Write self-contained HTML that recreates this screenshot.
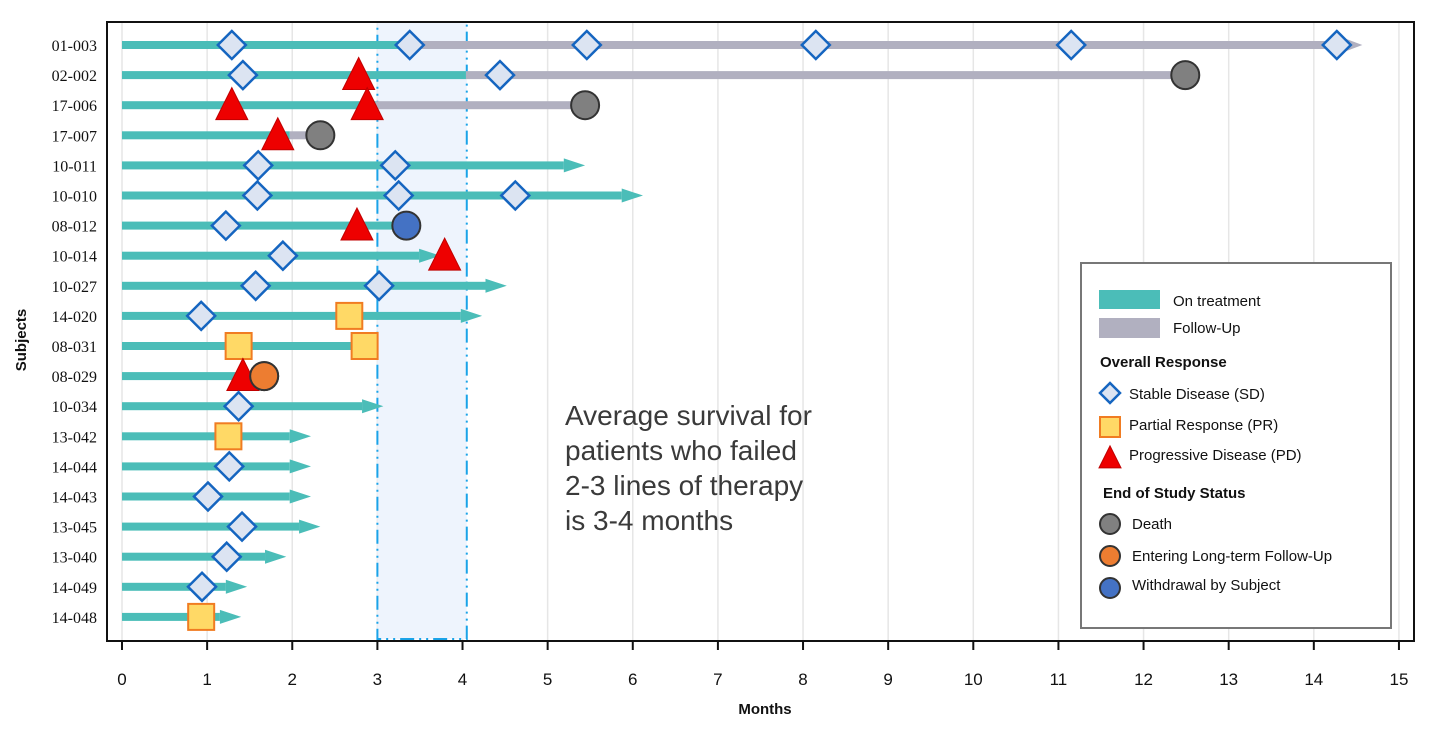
<!DOCTYPE html>
<html><head><meta charset="utf-8"><style>
body{margin:0;background:#fff;width:1456px;height:730px;overflow:hidden}
svg text{font-family:"Liberation Sans",Arial,sans-serif}
svg text.serif{font-family:"Liberation Serif","Times New Roman",serif}
</style></head><body>
<svg id="chart" width="1456" height="730" xmlns="http://www.w3.org/2000/svg"></svg>
<script>
const subjects=["01-003","02-002","17-006","17-007","10-011","10-010","08-012","10-014","10-027","14-020","08-031","08-029","10-034","13-042","14-044","14-043","13-045","13-040","14-049","14-048"];
const treatEnd=[3.38,4.04,2.98,1.97,5.44,6.12,3.34,3.74,4.52,4.23,2.91,1.56,3.07,2.22,2.22,2.22,2.33,1.93,1.47,1.40];
const followEnd=[14.57,12.49,5.44,2.33,null,null,null,null,null,null,null,null,null,null,null,null,null,null,null,null];
const ongoing=[1,0,0,0,1,1,0,1,1,1,0,0,1,1,1,1,1,1,1,1];
const endStatus=[null,"death","death","death",null,null,"withdrawal",null,null,null,null,"ltfu",null,null,null,null,null,null,null,null];
const endTime=[null,12.49,5.44,2.33,null,null,3.34,null,null,null,null,1.67,null,null,null,null,null,null,null,null];
const sdTimes=[[1.29,3.38,5.46,8.15,11.15,14.27],[1.42,4.44],[],[],[1.6,3.21],[1.59,3.25,4.62],[1.22],[1.89],[1.57,3.02],[0.93],[],[],[1.37],[],[1.26],[1.01],[1.41],[1.23],[0.94],[]];
const prTimes=[[],[],[],[],[],[],[],[],[],[2.67],[1.37,2.85],[],[],[1.25],[],[],[],[],[],[0.93]];
const pdTimes=[[],[2.78],[1.29,2.88],[1.83],[],[],[2.76],[3.79],[],[],[],[1.42],[],[],[],[],[],[],[],[]];
const xTicks=[0,1,2,3,4,5,6,7,8,9,10,11,12,13,14,15];
const bandStart=3.0, bandEnd=4.05;

const NS="http://www.w3.org/2000/svg";
const svg=document.getElementById('chart');
const X=m=>122+m*85.13;
const Y=i=>45+i*30.1;
function el(t,a,p){const e=document.createElementNS(NS,t);for(const k in a)e.setAttribute(k,a[k]);(p||svg).appendChild(e);return e;}
const COL={teal:"#4bbdb8",fu:"#b1b0c0",death:"#808080",ltfu:"#ed7d31",withdrawal:"#4472c4"};

xTicks.forEach(t=>{const g=el('line',{x1:X(t),x2:X(t),y1:22,y2:641,stroke:"#e6e6e6","stroke-width":1.5});
});
const band=el('rect',{x:X(bandStart),y:22,width:X(bandEnd)-X(bandStart),height:617,fill:"#eef4fd",stroke:"#1aa3e8","stroke-width":2,"stroke-dasharray":"14 5 2 5 2 5"});


function diamond(x,y,s,p){const d=el('polygon',{points:`${x},${y-s} ${x+s},${y} ${x},${y+s} ${x-s},${y}`,fill:"#dce4f2",stroke:"#1565c0","stroke-width":2.5},p);}
function square(x,y,s,p){const d=el('rect',{x:x-s,y:y-s,width:2*s,height:2*s,fill:"#ffd966",stroke:"#f07c22","stroke-width":2},p);}
function tri(x,y,s,p){const d=el('polygon',{points:`${x},${y-s*1.1} ${x+s},${y+s*0.9} ${x-s},${y+s*0.9}`,fill:"#ee0000",stroke:"#c00000","stroke-width":1},p);}
function circ(x,y,r,c,p){const d=el('circle',{cx:x,cy:y,r:r,fill:c,stroke:"#333","stroke-width":2},p);}

subjects.forEach((s,i)=>{
  const y=Y(i);
  const lab=el('text',{x:97,y:y+6,"text-anchor":"end","font-size":16,fill:"#111","class":"serif"});lab.textContent=s;
  
  if(followEnd[i]!=null){
    const fe=ongoing[i]?followEnd[i]-0.25:followEnd[i];
    const f=el('rect',{x:X(treatEnd[i]),y:y-4,width:X(fe)-X(treatEnd[i]),height:8,fill:COL.fu});
    
    if(ongoing[i]){const a=el('polygon',{points:`${X(fe)},${y-8} ${X(followEnd[i])},${y} ${X(fe)},${y+8}`,fill:COL.fu});}
  }
  const te=(ongoing[i]&&followEnd[i]==null)?treatEnd[i]-0.25:treatEnd[i];
  const b=el('rect',{x:X(0),y:y-4,width:X(te)-X(0),height:8,fill:COL.teal});
  
  if(ongoing[i]&&followEnd[i]==null){const a=el('polygon',{points:`${X(te)},${y-7} ${X(treatEnd[i])},${y} ${X(te)},${y+7}`,fill:COL.teal});}
  if(endStatus[i])circ(X(endTime[i]),y,14,COL[endStatus[i]]);
  sdTimes[i].forEach(t=>diamond(X(t),y,14));
  prTimes[i].forEach(t=>square(X(t),y,13));
  pdTimes[i].forEach(t=>tri(X(t),y,16));
});
endStatus.forEach((s,i)=>{if(s==="ltfu")circ(X(endTime[i]),Y(i),14,COL[s]);});

const ax=el('path',{d:"M107,22 V641 H1414 V22 Z",fill:"none",stroke:"#111","stroke-width":2});

xTicks.forEach(t=>{el('line',{x1:X(t),x2:X(t),y1:641,y2:650,stroke:"#111","stroke-width":2});
const tl=el('text',{x:X(t),y:685,"text-anchor":"middle","font-size":17,fill:"#111"});tl.textContent=t;
});
const xt=el('text',{x:765,y:714,"text-anchor":"middle","font-size":15,"font-weight":"bold",fill:"#111"});xt.textContent="Months";

const yt=el('text',{x:26,y:340,"text-anchor":"middle","font-size":15,"font-weight":"bold",fill:"#111",transform:"rotate(-90 26 340)"});yt.textContent="Subjects";


["Average survival for","patients who failed","2-3 lines of therapy","is 3-4 months"].forEach((t,k)=>{
const a=el('text',{x:565,y:425+k*35,"font-size":28,fill:"#3a3a3a","font-weight":"300"});a.textContent=t;
});

const lg=el('g',{});
el('rect',{x:1081,y:263,width:310,height:365,fill:"#fff",stroke:"#777","stroke-width":2},lg);
el('rect',{x:1099,y:290,width:61,height:19,fill:COL.teal},lg);
el('rect',{x:1099,y:318,width:61,height:20,fill:COL.fu},lg);
function lt(x,y,t,b){const e=el('text',{x:x,y:y,"font-size":15,fill:"#111","font-weight":b?"bold":"normal"},lg);e.textContent=t;}
lt(1173,306,"On treatment");lt(1173,333,"Follow-Up");
lt(1100,367,"Overall Response",1);
diamond(1110,393,10,lg);lt(1129,399,"Stable Disease (SD)");
square(1110,427,10,lg);lt(1129,430,"Partial Response (PR)");
tri(1110,458,11,lg);lt(1129,460,"Progressive Disease (PD)");
lt(1103,498,"End of Study Status",1);
circ(1110,524,10,COL.death,lg);lt(1132,529,"Death");
circ(1110,556,10,COL.ltfu,lg);lt(1132,561,"Entering Long-term Follow-Up");
circ(1110,588,10,COL.withdrawal,lg);lt(1132,590,"Withdrawal by Subject");
</script>
</body></html>
